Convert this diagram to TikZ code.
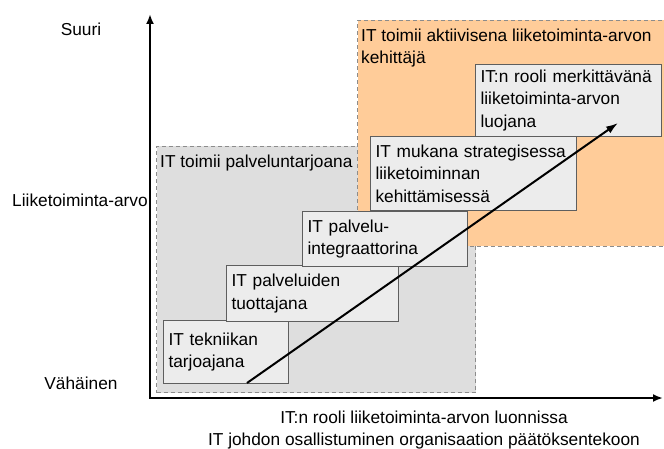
\documentclass[tikz,border=0pt]{standalone}
\usepackage{fontspec}
\setmainfont{Liberation Sans}
\usetikzlibrary{arrows.meta, positioning}
\definecolor{harmaatausta}{HTML}{DEDEDE}
\definecolor{laatikkotausta}{HTML}{ECECEC}
\definecolor{oranssitausta}{HTML}{FFCC99}
\definecolor{reunaharmaa}{HTML}{5E5E5E}
\definecolor{katkoharmaa}{HTML}{8C8C8C}
\tikzset{
  tekstiPohja/.style={font=\fontsize{17.3}{22.5}\selectfont, text=black},
  alue/.style={draw=katkoharmaa, line width=1pt, dash pattern=on 4pt off 3pt,
    anchor=north west, inner sep=0pt},
  alueHarmaa/.style={alue, fill=harmaatausta},
  alueOranssi/.style={alue, fill=oranssitausta},
  alueOtsikko/.style={tekstiPohja, anchor=north west, align=left,
    inner xsep=4pt, inner ysep=8.5pt},
  laatikko/.style={tekstiPohja, draw=reunaharmaa, line width=1pt,
    fill=laatikkotausta, anchor=north west, align=left, inner xsep=5pt},
  akseliTeksti/.style={tekstiPohja, align=center, inner sep=0pt},
  akseli/.style={{Latex[length=10pt,width=8pt]}-{Latex[length=10pt,width=8pt]},
    line width=2pt, line join=miter},
  kehitysNuoli/.style={-{Latex[length=12pt,width=8pt]}, line width=2pt},
}

\begin{document}
\begin{tikzpicture}[x=1pt, y=-1pt]
    \useasboundingbox (0,0) rectangle (664,449);
    % alueet
    \node[alueHarmaa, minimum width=319pt, minimum height=246pt] (palvelu) at (156,146) {};
    \node[alueOranssi, minimum width=312pt, minimum height=226pt] (kehittaja) at (357,20) {};
    \node[alueOtsikko] (palveluOts) at (palvelu.north west) {IT toimii palveluntarjoana};
    \node[alueOtsikko] (kehittajaOts) at (kehittaja.north west)
      {IT toimii aktiivisena liiketoiminta-arvon\\kehittäjä};
    % portaat
    \node[laatikko, text width=115pt, minimum height=63pt] (b1) at (163,320)
      {IT tekniikan\\tarjoajana};
    \node[laatikko, text width=162pt, minimum height=56pt] (b2) at (226,265)
      {IT palveluiden\\tuottajana};
    \node[laatikko, text width=155pt, minimum height=55pt] (b3) at (302,211)
      {IT palvelu-\\integraattorina};
    \node[laatikko, text width=196pt, minimum height=74pt] (b4) at (370,136)
      {IT mukana strategisessa\\liiketoiminnan\\kehittämisessä};
    \node[laatikko, text width=176pt, minimum height=72pt] (b5) at (475,64)
      {IT:n rooli merkittävänä\\liiketoiminta-arvon\\luojana};
    % akselit
    \coordinate (ylapaa) at (150,14);
    \coordinate (origo) at (150,398);
    \coordinate (oikea) at (663,398);
    \draw[akseli] (ylapaa) -- (origo) -- (oikea);
    \node[akseliTeksti] (suuri) at (81,29) {Suuri};
    \node[akseliTeksti] (arvo) at (80,200) {Liiketoiminta-arvo};
    \node[akseliTeksti] (vahainen) at (81,383) {Vähäinen};
    \node[akseliTeksti] (rooli) at (424,430)
      {IT:n rooli liiketoiminta-arvon luonnissa\\IT johdon osallistuminen organisaation päätöksentekoon};
    % kehitys
    \coordinate (nuoliAlku) at (247,383);
    \coordinate (nuoliKarki) at (618,123);
    \draw[kehitysNuoli] (nuoliAlku) -- (nuoliKarki);
\end{tikzpicture}
\end{document}
